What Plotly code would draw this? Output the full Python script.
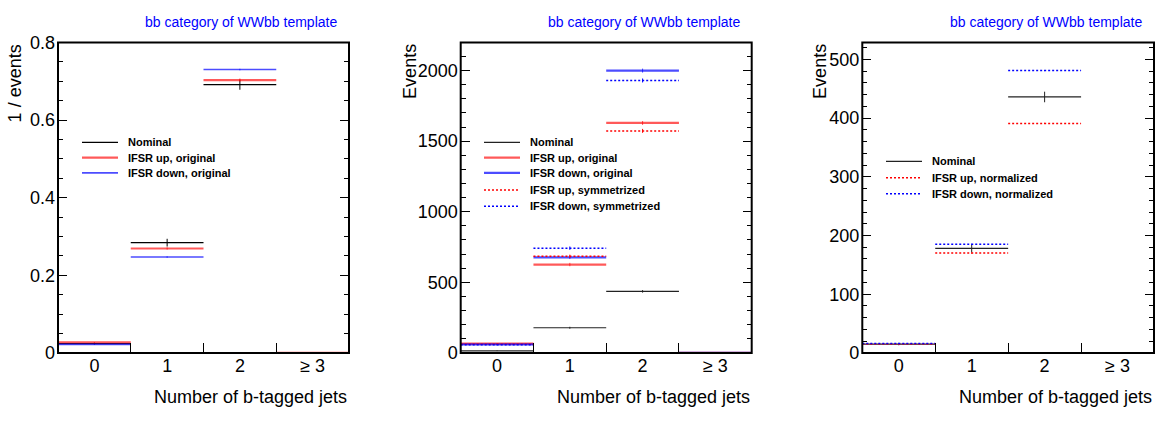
import plotly.graph_objects as go

# b-tag multiplicity bins
categories = ["0", "1", "2", "\u2265 3"]

# Left: shapes normalised to unit area
nominal_frac = [0.024, 0.284, 0.691, 0.0]
nominal_frac_err = [0.002, 0.010, 0.013, 0.0]
up_frac = [0.027, 0.269, 0.703, 0.0]
up_frac_err = [0.001, 0.003, 0.004, 0.0]
down_frac = [0.022, 0.247, 0.730, 0.0]
down_frac_err = [0.001, 0.002, 0.002, 0.0]

# Middle/right: event yields
nominal = [15, 178, 436, 0]
nominal_err = [2, 7, 9, 0]
up_orig = [65, 626, 1629, 0]
up_orig_err = [3, 12, 14, 0]
down_orig = [60, 677, 2000, 0]
down_orig_err = [3, 12, 14, 0]
up_sym = [62, 684, 1573, 0]
up_sym_err = [3, 12, 14, 0]
down_sym = [57, 742, 1930, 0]
down_sym_err = [3, 12, 14, 0]
up_norm = [15, 170, 391, 0]
up_norm_err = [1, 1, 1, 0]
down_norm = [16, 185, 481, 0]
down_norm_err = [1, 1, 1, 0]

W, H = 1161, 421
FONT = "Liberation Sans, Arial, Helvetica, sans-serif"
RED_SOLID = "rgba(255,0,0,0.65)"
BLUE_SOLID = "rgba(0,0,255,0.7)"
DOT = "2px,2px"

fig = go.Figure()


def add_hist(values, errs, color, width, dash, xa, ya):
    xs, ys = [], []
    for i, v in enumerate(values):
        xs += [i - 0.5, i + 0.5, None]
        ys += [v, v, None]
    fig.add_trace(go.Scatter(x=xs, y=ys, mode="lines", xaxis=xa, yaxis=ya,
                             line=dict(color=color, width=width, dash=dash),
                             showlegend=False, hoverinfo="skip"))
    fig.add_trace(go.Scatter(x=list(range(len(values))), y=values, mode="markers",
                             xaxis=xa, yaxis=ya, marker=dict(size=0.1, opacity=0),
                             error_y=dict(type="data", array=errs, width=0,
                                          thickness=1, color=color),
                             showlegend=False, hoverinfo="skip"))


# panel 1
add_hist(nominal_frac, nominal_frac_err, "black", 1.2, "solid", "x", "y")
add_hist(up_frac, up_frac_err, RED_SOLID, 2.2, "solid", "x", "y")
add_hist(down_frac, down_frac_err, BLUE_SOLID, 1.6, "solid", "x", "y")

# panel 2
add_hist(nominal, nominal_err, "#222222", 1.2, "solid", "x2", "y2")
add_hist(up_orig, up_orig_err, RED_SOLID, 2.2, "solid", "x2", "y2")
add_hist(down_orig, down_orig_err, BLUE_SOLID, 2.2, "solid", "x2", "y2")
add_hist(up_sym, up_sym_err, "red", 1.5, DOT, "x2", "y2")
add_hist(down_sym, down_sym_err, "blue", 1.5, DOT, "x2", "y2")

# panel 3
add_hist(nominal, nominal_err, "#222222", 1.2, "solid", "x3", "y3")
add_hist(up_norm, up_norm_err, "red", 1.5, DOT, "x3", "y3")
add_hist(down_norm, down_norm_err, "blue", 1.5, DOT, "x3", "y3")

y_top, y_bot = 34, 360
panels = [
    dict(x0=58, x1=349, ymax=0.8, dtick=0.2, minor=0.05, ytitle="1 / events", ytx=15),
    dict(x0=460.7, x1=751.7, ymax=2200, dtick=500, minor=100, ytitle="Events", ytx=410),
    dict(x0=862.3, x1=1154, ymax=529, dtick=100, minor=20, ytitle="Events", ytx=820),
]
edges = [i + 0.5 for i in range(len(categories) - 1)]

layout = dict(width=W, height=H, margin=dict(l=0, r=0, t=0, b=0),
              paper_bgcolor="white", plot_bgcolor="white",
              font=dict(family=FONT, color="black"), showlegend=False)
annotations, shapes = [], []
for k, p in enumerate(panels):
    sfx = "" if k == 0 else str(k + 1)
    layout["xaxis" + sfx] = dict(
        domain=[p["x0"] / W, p["x1"] / W], anchor="y" + sfx,
        range=[-0.5, len(categories) - 0.5],
        tickvals=list(range(len(categories))), ticktext=categories,
        ticks="", showline=False, mirror="allticks",
        showgrid=False, zeroline=False, tickfont=dict(size=18, family=FONT),
        minor=dict(tickvals=edges, ticks="inside", ticklen=10, tickcolor="black",
                   tickwidth=1, showgrid=False))
    layout["yaxis" + sfx] = dict(
        domain=[1 - y_bot / H, 1 - y_top / H], anchor="x" + sfx,
        range=[0, p["ymax"]], dtick=p["dtick"], tick0=0,
        ticks="inside", ticklen=9, tickcolor="black", tickwidth=1,
        showline=False, mirror="allticks",
        showgrid=False, zeroline=False, tickfont=dict(size=18, family=FONT),
        ticklabelstandoff=2,
        minor=dict(dtick=p["minor"], ticks="inside", ticklen=5, tickcolor="black",
                   tickwidth=1, showgrid=False))
    # frame drawn over the histograms so empty bins sit under the axis
    shapes.append(dict(type="rect", xref="x" + sfx + " domain", yref="y" + sfx + " domain",
                       x0=0, x1=1, y0=0, y1=1, layer="above",
                       line=dict(color="black", width=2)))
    annotations.append(dict(text="bb category of WWbb template", xref="paper", yref="paper",
                            x=(p["x1"] - 10) / W, y=1 - 12.5 / H, xanchor="right",
                            yanchor="middle", showarrow=False,
                            font=dict(size=14, color="blue", family=FONT)))
    annotations.append(dict(text="Number of b-tagged jets", xref="paper", yref="paper",
                            x=p["x1"] / W, y=1 - 406 / H, xanchor="right",
                            yanchor="middle", showarrow=False,
                            font=dict(size=18, family=FONT)))
    annotations.append(dict(text=p["ytitle"], xref="paper", yref="paper", textangle=-90,
                            x=p["ytx"] / W, y=1 - y_top / H, xanchor="center",
                            yanchor="top", showarrow=False,
                            font=dict(size=18, family=FONT)))

# legends: (line x0, line x1, text x, row y positions, entries)
legends = [
    (82, 118, 126, [139, 155, 171], [
        ("Nominal", "black", 1.2, "solid"),
        ("IFSR up, original", RED_SOLID, 2.2, "solid"),
        ("IFSR down, original", BLUE_SOLID, 1.6, "solid")]),
    (484, 520, 528, [139, 155, 171, 189, 206], [
        ("Nominal", "#222222", 1.2, "solid"),
        ("IFSR up, original", RED_SOLID, 2.2, "solid"),
        ("IFSR down, original", BLUE_SOLID, 2.2, "solid"),
        ("IFSR up, symmetrized", "red", 1.5, DOT),
        ("IFSR down, symmetrized", "blue", 1.5, DOT)]),
    (886, 922, 930, [159, 176, 193], [
        ("Nominal", "#222222", 1.2, "solid"),
        ("IFSR up, normalized", "red", 1.5, DOT),
        ("IFSR down, normalized", "blue", 1.5, DOT)]),
]
for lx0, lx1, tx, rows, entries in legends:
    for ry, (label, col, lw, dash) in zip(rows, entries):
        shapes.append(dict(type="line", xref="paper", yref="paper",
                           x0=lx0 / W, x1=lx1 / W, y0=1 - ry / H, y1=1 - ry / H,
                           line=dict(color=col, width=lw, dash=dash)))
        annotations.append(dict(text="<b>" + label + "</b>", xref="paper", yref="paper",
                                x=tx / W, y=1 - ry / H, xanchor="left", yanchor="middle",
                                showarrow=False, font=dict(size=11, family=FONT)))

layout["annotations"] = annotations
layout["shapes"] = shapes
fig.update_layout(**layout)
fig.write_html("out.html")
